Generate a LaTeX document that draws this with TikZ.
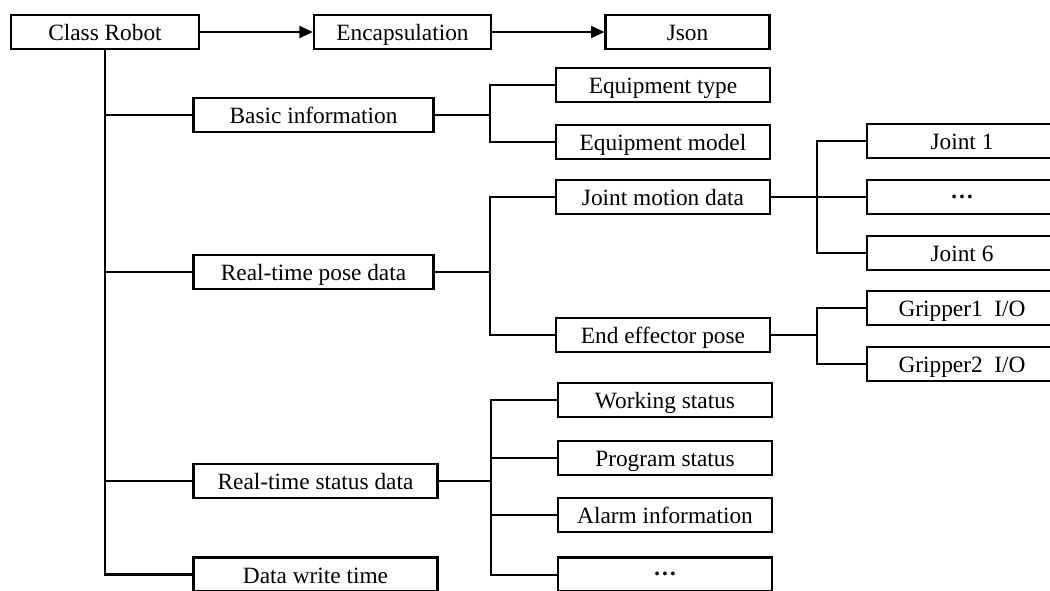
\documentclass[tikz,border=0pt]{standalone}
\usepackage{fontspec}
\setmainfont{Liberation Serif}
\usetikzlibrary{arrows.meta}
\newcommand{\mdots}{\raisebox{5.4pt}{\textbf{…}}}
\begin{document}
\begin{tikzpicture}[x=0.75pt,y=-0.75pt,
  box/.style={draw, line width=1.6pt, inner sep=0pt, minimum height=25.5pt,
    text height=15pt, text depth=2pt,
    font=\fontsize{17.5}{20}\selectfont},
  wa/.style={box, minimum width=141pt},
  wb/.style={box, minimum width=180pt},
  wc/.style={box, minimum width=160pt},
  wd/.style={box, minimum width=142pt},
  link/.style={line width=1.5pt},
  trunk/.style={line width=2pt},
  flow/.style={line width=1.5pt, -{Triangle[length=10pt,width=9pt]}}]
\useasboundingbox (0,0) rectangle (1050,590);

% top row
\node[wa] (robot) at (105,32) {Class Robot};
\node[box, minimum width=133pt] (encap) at (402.5,32) {Encapsulation};
\node[box, minimum width=123pt] (json) at (687.5,32) {Json};
\draw[flow] (robot.east) -- (encap.west);
\draw[flow] (encap.east) -- (json.west);

% second level
\node[wb] (basic) at (313.5,115) {Basic information};
\node[wb] (pose) at (313.5,272) {Real-time pose data};
\node[box, minimum width=183pt] (status) at (315.5,481) {Real-time status data};
\node[box, minimum width=183pt] (dwt) at (315.5,574.5) {Data write time};

% third level
\node[wc] (eqtype) at (663,85) {Equipment type};
\node[wc] (eqmodel) at (663,142) {Equipment model};
\node[wc] (jmotion) at (663,197) {Joint motion data};
\node[wc] (endeff) at (663,335) {End effector pose};
\node[box, minimum width=161pt] (working) at (665,400) {Working status};
\node[box, minimum width=161pt] (program) at (665,458) {Program status};
\node[box, minimum width=161pt] (alarm) at (665,515) {Alarm information};
\node[box, minimum width=161pt] (sdots) at (665,574.5) {\mdots};

% fourth level
\node[wd] (joint1) at (962,141) {Joint 1};
\node[wd] (jdots) at (962,197) {\mdots};
\node[wd] (joint6) at (962,253) {Joint 6};
\node[wd] (grip1) at (962,308) {Gripper1~~I/O};
\node[wd] (grip2) at (962,364) {Gripper2~~I/O};

% main trunk
\draw[trunk] (robot.south) |- (dwt.west);
\draw[link] (robot.south |- basic.west) -- (basic.west);
\draw[link] (robot.south |- pose.west) -- (pose.west);
\draw[link] (robot.south |- status.west) -- (status.west);

% junctions
\coordinate (bj) at (490,115);
\coordinate (pj) at (490,272);
\coordinate (sj) at (491,481);
\coordinate (jj) at (817,197);
\coordinate (ej) at (817,335);

\draw[link] (basic.east) -- (bj);
\draw[link] (eqtype.west) -| (bj) |- (eqmodel.west);

\draw[link] (pose.east) -- (pj);
\draw[link] (jmotion.west) -| (pj) |- (endeff.west);

\draw[trunk] (jmotion.east) -- (jdots.west);
\draw[link] (joint1.west) -| (jj) |- (joint6.west);

\draw[link] (endeff.east) -- (ej);
\draw[link] (grip1.west) -| (ej) |- (grip2.west);

\draw[link] (status.east) -- (sj);
\draw[link] (working.west) -| (sj) |- (sdots.west);
\draw[link] (sj |- program.west) -- (program.west);
\draw[link] (sj |- alarm.west) -- (alarm.west);
\end{tikzpicture}
\end{document}
